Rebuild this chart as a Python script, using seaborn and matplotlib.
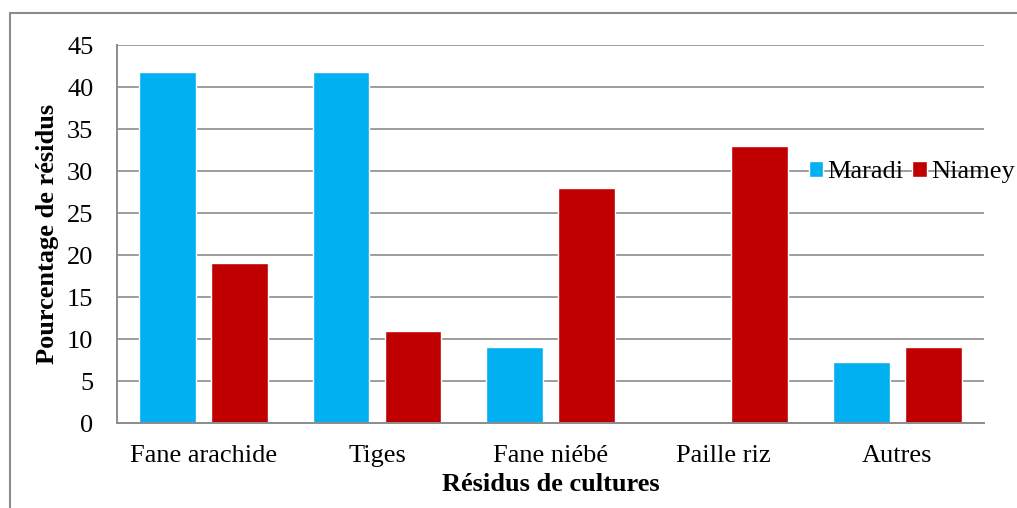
import matplotlib
matplotlib.use("Agg")
import matplotlib.pyplot as plt
import seaborn as sns
import pandas as pd
from matplotlib.patches import Rectangle

categories = ['Fane arachide', 'Tiges', 'Fane niébé', 'Paille riz', 'Autres']
maradi = [41.8, 41.8, 9.1, 0, 7.3]
niamey = [19, 11, 28, 33, 9]
series = ['Maradi', 'Niamey']
colors = ['#00B0F0', '#C00000']
yticks = [0, 5, 10, 15, 20, 25, 30, 35, 40, 45]

df = pd.DataFrame({
    'cat': categories * 2,
    'val': maradi + niamey,
    'site': ['Maradi'] * len(categories) + ['Niamey'] * len(categories),
})

sns.set_style('white')
plt.rcParams['font.family'] = ['Liberation Serif', 'DejaVu Serif']
plt.rcParams['text.color'] = 'black'
plt.rcParams['axes.labelcolor'] = 'black'
plt.rcParams['xtick.color'] = 'black'
plt.rcParams['ytick.color'] = 'black'

fig = plt.figure(figsize=(10.17, 5.08), dpi=100)
ax = fig.add_axes([0.115, 0.1673, 0.8525, 0.7441])

sns.barplot(data=df, x='cat', y='val', hue='site', order=categories,
            hue_order=series, palette=colors, width=0.83, gap=0.21,
            saturation=1, ax=ax, legend=True)

ax.set_ylim(0, 45)
ax.set_xlim(-0.5, len(categories) - 0.5)
ax.set_yticks(yticks)
ax.yaxis.grid(True, color='#8c8c8c', linewidth=1.2)
ax.set_axisbelow(True)
for s in ['top', 'right']:
    ax.spines[s].set_visible(False)
for s in ['left', 'bottom']:
    ax.spines[s].set_color('#8c8c8c')
    ax.spines[s].set_linewidth(1.4)

ax.tick_params(axis='y', length=0, pad=17, labelsize=19, labelcolor='black')
ax.tick_params(axis='x', length=0, pad=16, labelsize=19, labelcolor='black')
ax.set_ylabel('Pourcentage de résidus', fontsize=19, fontweight='bold', labelpad=6, color='black')
ax.set_xlabel('Résidus de cultures', fontsize=19, fontweight='bold', labelpad=4, color='black')

leg = ax.legend(loc='center left', bbox_to_anchor=(0.795, 0.661), bbox_transform=fig.transFigure,
                frameon=False, ncol=2, fontsize=19, handlelength=0.55, handleheight=0.55,
                handletextpad=0.15, columnspacing=0.35, borderaxespad=0, borderpad=0)
for t in leg.get_texts():
    t.set_color('black')

# outer frame (only left and top show in the picture)
fig.patches.append(Rectangle((10 / 1017, -0.2), 1.2, 1.2 - 13 / 508,
                             transform=fig.transFigure, fill=False,
                             edgecolor='#8c8c8c', linewidth=1.5))

fig.savefig('out.png', dpi=100)
